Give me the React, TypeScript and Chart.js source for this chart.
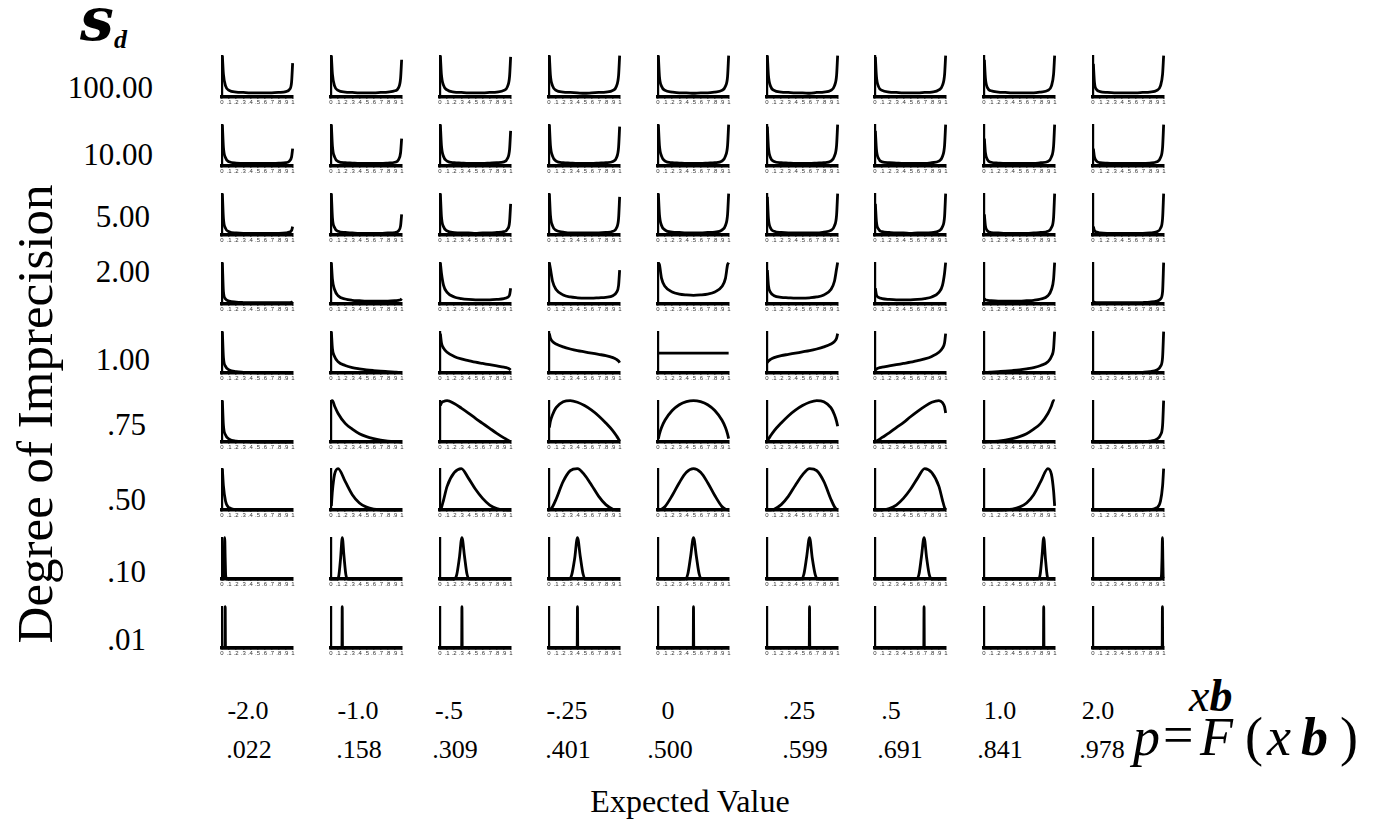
import React, { useEffect, useRef } from 'react';
import { Chart, registerables } from 'chart.js';

Chart.register(...registerables);

// ---------- labels ----------
const sdLabels = ['100.00', '10.00', '5.00', '2.00', '1.00', '.75', '.50', '.10', '.01'];
const meanLabels = ['-2.0', '-1.0', '-.5', '-.25', '0', '.25', '.5', '1.0', '2.0'];
const probLabels = ['.022', '.158', '.309', '.401', '.500', '.599', '.691', '.841', '.978'];
const xTickValues = [0, 0.1, 0.2, 0.3, 0.4, 0.5, 0.6, 0.7, 0.8, 0.9, 1];
const xTickLabels = ['0', '.1', '.2', '.3', '.4', '.5', '.6', '.7', '.8', '.9', '1'];

// p positions at which heights were read (rows sd 100 ... .50)
const pGrid = [0.005, 0.02, 0.05, 0.1, 0.2, 0.3, 0.4, 0.5, 0.6, 0.7, 0.8, 0.9, 0.95, 0.98, 0.995];

// heights (fraction of each cell's y range), one list per column
const sd100 = [
  [1.0, .55, .27, .16, .12, .11, .10, .10, .10, .10, .11, .13, .18, .36, .82],
  [1.0, .55, .27, .16, .12, .11, .10, .10, .10, .11, .12, .15, .22, .45, .9],
  [1.0, .54, .28, .17, .12, .11, .10, .10, .10, .11, .12, .16, .25, .5, .97],
  [1.0, .52, .27, .16, .12, .11, .10, .09, .10, .11, .12, .16, .26, .52, 1.0],
  [1.0, .5, .26, .16, .12, .10, .10, .09, .10, .10, .12, .16, .26, .5, 1.0],
  [1.0, .52, .26, .16, .12, .11, .10, .10, .09, .11, .12, .16, .27, .52, 1.0],
  [.97, .5, .25, .16, .12, .11, .10, .10, .10, .11, .12, .17, .28, .54, 1.0],
  [.9, .45, .22, .15, .12, .11, .10, .10, .10, .10, .12, .16, .27, .55, 1.0],
  [.8, .36, .18, .13, .11, .10, .10, .10, .10, .11, .12, .16, .27, .55, 1.0],
];
const sd10 = [
  [1.0, .45, .2, .1, .07, .06, .06, .06, .06, .06, .07, .08, .12, .22, .42],
  [1.0, .48, .22, .11, .08, .07, .06, .06, .06, .06, .07, .09, .15, .32, .66],
  [1.0, .5, .23, .12, .08, .07, .06, .06, .06, .07, .08, .1, .18, .4, .85],
  [1.0, .5, .24, .12, .08, .07, .06, .06, .06, .07, .08, .11, .2, .45, .95],
  [1.0, .5, .24, .12, .08, .07, .06, .06, .06, .07, .08, .12, .24, .5, 1.0],
  [.95, .45, .2, .11, .08, .07, .06, .06, .06, .07, .08, .12, .24, .5, 1.0],
  [.85, .4, .18, .1, .08, .07, .06, .06, .06, .06, .08, .12, .23, .5, 1.0],
  [.66, .32, .15, .09, .07, .06, .06, .06, .06, .06, .08, .11, .22, .48, 1.0],
  [.42, .22, .12, .08, .07, .06, .06, .06, .06, .06, .07, .1, .2, .45, 1.0],
];
const sd5 = [
  [1.0, .4, .16, .08, .05, .04, .04, .04, .04, .04, .04, .05, .07, .11, .2],
  [1.0, .42, .18, .09, .06, .05, .04, .04, .04, .04, .05, .06, .1, .22, .5],
  [1.0, .45, .2, .1, .06, .05, .05, .04, .05, .05, .06, .08, .14, .32, .75],
  [1.0, .48, .22, .11, .07, .05, .05, .05, .05, .05, .06, .09, .17, .4, .92],
  [1.0, .5, .23, .12, .07, .06, .05, .05, .05, .06, .07, .12, .23, .5, 1.0],
  [.92, .4, .17, .09, .06, .05, .05, .05, .05, .05, .07, .11, .22, .48, 1.0],
  [.75, .32, .14, .08, .06, .05, .05, .04, .05, .05, .06, .1, .2, .45, 1.0],
  [.5, .22, .1, .06, .05, .04, .04, .04, .04, .05, .06, .09, .18, .42, 1.0],
  [.2, .11, .07, .05, .04, .04, .04, .04, .04, .04, .05, .08, .16, .4, 1.0],
];
const sd2 = [
  [1.0, .3, .12, .07, .045, .035, .03, .03, .03, .03, .03, .03, .035, .04, .06],
  [1.0, .6, .35, .2, .12, .09, .08, .07, .07, .07, .07, .08, .09, .1, .13],
  [1.0, .75, .45, .28, .17, .13, .11, .1, .1, .1, .11, .13, .16, .22, .38],
  [1.0, .85, .55, .35, .22, .17, .15, .14, .14, .15, .16, .2, .28, .45, .82],
  [1.0, .95, .62, .42, .29, .24, .22, .21, .22, .24, .29, .42, .62, .95, 1.0],
  [.82, .45, .28, .2, .16, .15, .14, .14, .15, .17, .22, .35, .55, .85, 1.0],
  [.38, .22, .16, .13, .11, .1, .1, .1, .11, .13, .17, .28, .45, .75, 1.0],
  [.13, .1, .09, .08, .07, .07, .07, .07, .08, .09, .12, .2, .35, .6, 1.0],
  [.06, .04, .035, .03, .03, .03, .03, .03, .03, .035, .045, .07, .12, .3, 1.0],
];
const sd1 = [
  [1.0, .38, .16, .075, .032, .017, .01, .006, .004, .003, .002, .001, 0, 0, 0],
  [1.0, .59, .40, .27, .18, .13, .10, .076, .059, .045, .033, .021, .015, .01, .006],
  [.95, .73, .60, .50, .40, .34, .30, .26, .23, .20, .17, .14, .12, .095, .07],
  [.95, .84, .76, .70, .63, .58, .54, .51, .48, .45, .42, .37, .33, .29, .25],
  [.48, .48, .48, .48, .48, .48, .48, .48, .48, .48, .48, .48, .48, .48, .48],
  [.25, .29, .33, .37, .42, .45, .48, .51, .54, .58, .63, .70, .76, .84, .95],
  [.07, .095, .12, .14, .17, .20, .23, .26, .30, .34, .40, .50, .60, .73, .95],
  [.006, .01, .015, .021, .033, .045, .059, .076, .10, .13, .18, .27, .40, .59, 1.0],
  [0, 0, 0, .001, .002, .003, .004, .006, .01, .017, .032, .075, .16, .38, 1.0],
];
const sd075 = [
  [1.0, .4, .17, .07, .02, .008, .003, 0, 0, 0, 0, 0, 0, 0, 0],
  [.99, 1.0, .87, .69, .45, .31, .20, .13, .083, .048, .023, .007, .002, 0, 0],
  [.88, .94, .98, 1.0, .93, .82, .7, .57, .45, .33, .21, .1, .05, .02, .005],
  [.35, .5, .66, .83, .97, 1.0, .96, .88, .77, .63, .46, .27, .15, .07, .02],
  [.08, .19, .35, .53, .76, .90, .975, 1.0, .975, .90, .76, .53, .35, .19, .08],
  [.02, .07, .15, .27, .46, .63, .77, .88, .96, 1.0, .97, .83, .66, .5, .38],
  [.005, .02, .05, .11, .22, .35, .47, .61, .74, .86, .96, 1.0, .95, .85, .7],
  [0, 0, .002, .007, .023, .048, .083, .13, .20, .31, .45, .69, .87, 1.0, .99],
  [0, 0, 0, 0, 0, 0, 0, 0, .003, .008, .02, .07, .17, .4, 1.0],
];
const sd050 = [
  [1.0, .58, .21, .056, .007, 0, 0, 0, 0, 0, 0, 0, 0, 0, 0],
  [.1, .46, .86, 1.0, .69, .37, .17, .07, .023, .005, 0, 0, 0, 0, 0],
  [.004, .055, .24, .57, .9, 1.0, .77, .5, .28, .12, .034, .003, 0, 0, 0],
  [0, .012, .077, .26, .69, .95, 1.0, .85, .60, .33, .13, .02, 0, 0, 0],
  [0, .001, .017, .085, .35, .66, .91, 1.0, .91, .66, .35, .085, .017, .001, 0],
  [0, 0, 0, .02, .13, .33, .60, .85, 1.0, .95, .69, .26, .077, .012, 0],
  [0, 0, 0, .003, .034, .12, .28, .5, .77, 1.0, .9, .57, .24, .055, .004],
  [0, 0, 0, 0, 0, .005, .023, .07, .17, .37, .69, 1.0, .86, .46, .1],
  [0, 0, 0, 0, 0, 0, 0, 0, 0, 0, .007, .056, .21, .58, 1.0],
];

// rows sd .10 and .01: [p, height] pairs read around each peak
const sd010 = [
  [[0, 0], [.02, 0], [.03, .45], [.038, 1], [.045, .5], [.052, .08], [.065, 0], [1, 0]],
  [[0, 0], [.09, 0], [.11, .08], [.135, .5], [.159, 1], [.183, .55], [.21, .1], [.235, 0], [1, 0]],
  [[0, 0], [.2, 0], [.235, .1], [.272, .5], [.309, 1], [.345, .55], [.38, .12], [.42, 0], [1, 0]],
  [[0, 0], [.28, 0], [.32, .1], [.362, .5], [.401, 1], [.44, .55], [.48, .12], [.52, 0], [1, 0]],
  [[0, 0], [.38, 0], [.42, .12], [.46, .55], [.5, 1], [.54, .55], [.58, .12], [.62, 0], [1, 0]],
  [[0, 0], [.48, 0], [.52, .12], [.56, .55], [.599, 1], [.638, .5], [.68, .1], [.72, 0], [1, 0]],
  [[0, 0], [.58, 0], [.62, .12], [.655, .55], [.691, 1], [.728, .5], [.765, .1], [.8, 0], [1, 0]],
  [[0, 0], [.765, 0], [.79, .1], [.817, .55], [.841, 1], [.865, .5], [.89, .08], [.91, 0], [1, 0]],
  [[0, 0], [.95, 0], [.964, .08], [.972, .5], [.978, 1], [.984, .45], [.99, 0], [1, 0]],
];
const sd001 = [
  [[0, 0], [.041, 0], [.045, 1], [.049, 0], [1, 0]],
  [[0, 0], [.154, 0], [.158, 1], [.162, 0], [1, 0]],
  [[0, 0], [.305, 0], [.309, 1], [.313, 0], [1, 0]],
  [[0, 0], [.397, 0], [.401, 1], [.405, 0], [1, 0]],
  [[0, 0], [.496, 0], [.5, 1], [.504, 0], [1, 0]],
  [[0, 0], [.595, 0], [.599, 1], [.603, 0], [1, 0]],
  [[0, 0], [.687, 0], [.691, 1], [.695, 0], [1, 0]],
  [[0, 0], [.837, 0], [.841, 1], [.845, 0], [1, 0]],
  [[0, 0], [.974, 0], [.978, 1], [.982, 0], [1, 0]],
];

const gridRows = [sd100, sd10, sd5, sd2, sd1, sd075, sd050];
const pairRows = [sd010, sd001];

type Pt = { x: number; y: number };

function cellPoints(r: number, c: number): Pt[] {
  if (r < gridRows.length) {
    return gridRows[r][c].map((h, i) => ({ x: pGrid[i], y: h }));
  }
  return pairRows[r - gridRows.length][c].map(([p, h]) => ({ x: p, y: h }));
}

// layout
const COL0 = 222;
const COL_STEP = 108.9;
const ROW0 = 97;
const ROW_STEP = 68.9;
const PLOT_W = 71;
const PLOT_H = 43;
const Y_AXIS_W = 10;
const X_AXIS_H = 10;
const PAD_TOP = 4;
const PAD_RIGHT = 5;

function Cell({ r, c }: { r: number; c: number }) {
  const ref = useRef<HTMLCanvasElement>(null);
  useEffect(() => {
    const canvas = ref.current;
    if (!canvas) return;
    const chart = new Chart(canvas, {
      type: 'line',
      data: {
        datasets: [
          {
            data: cellPoints(r, c),
            borderColor: '#000',
            borderWidth: 2.8,
            pointRadius: 0,
            fill: false,
            cubicInterpolationMode: 'monotone',
            clip: false,
          } as any,
        ],
      },
      options: {
        animation: false,
        responsive: false,
        maintainAspectRatio: false,
        events: [],
        plugins: { legend: { display: false }, tooltip: { enabled: false } },
        layout: { padding: { top: PAD_TOP, right: PAD_RIGHT, left: 0, bottom: 0 } },
        scales: {
          x: {
            type: 'linear',
            min: 0,
            max: 1,
            afterBuildTicks: (s: any) => {
              s.ticks = xTickValues.map((v) => ({ value: v }));
            },
            afterFit: (s: any) => {
              s.height = X_AXIS_H;
            },
            ticks: {
              autoSkip: false,
              maxRotation: 0,
              minRotation: 0,
              padding: 0,
              font: { size: 6, family: 'Liberation Sans' },
              color: '#333',
              callback: (_v: any, i: number) => xTickLabels[i],
            },
            grid: { display: true, drawOnChartArea: false, drawTicks: true, tickLength: 2, color: '#000', lineWidth: 1.5 },
            border: { display: true, width: 3.5, color: '#000' },
          },
          y: {
            type: 'linear',
            min: 0,
            max: 1,
            afterBuildTicks: (s: any) => {
              s.ticks = [{ value: 0 }];
            },
            afterFit: (s: any) => {
              s.width = Y_AXIS_W;
            },
            ticks: {
              padding: 2,
              font: { size: 6, family: 'Liberation Sans' },
              color: '#333',
              callback: () => '0',
            },
            grid: { display: false },
            border: { display: true, width: 2.2, color: '#000' },
          },
        },
      } as any,
    });
    return () => chart.destroy();
  }, [r, c]);
  const axisX = COL0 + c * COL_STEP;
  const axisY = ROW0 + r * ROW_STEP;
  return (
    <canvas
      ref={ref}
      width={Y_AXIS_W + PLOT_W + PAD_RIGHT}
      height={PAD_TOP + PLOT_H + X_AXIS_H}
      style={{ position: 'absolute', left: Math.round(axisX - Y_AXIS_W), top: Math.round(axisY - PLOT_H - PAD_TOP) }}
    />
  );
}

const serif = "'Liberation Serif', 'Times New Roman', serif";

const rowLabelY = [88, 155, 217, 272, 360, 425, 500, 572, 640];
const rowLabelRight = [153, 153, 150, 150, 150, 146, 146, 146, 146];
const colLine1X = [248, 358, 449, 567, 668, 799, 891, 1000, 1098];
const colLine2X = [249, 359, 455, 568, 670, 805, 900, 1000, 1102];

export default function App() {
  const cells: JSX.Element[] = [];
  for (let r = 0; r < 9; r++) {
    for (let c = 0; c < 9; c++) {
      cells.push(<Cell key={`${r}-${c}`} r={r} c={c} />);
    }
  }
  const abs = (style: React.CSSProperties): React.CSSProperties => ({ position: 'absolute', whiteSpace: 'nowrap', ...style });
  return (
    <div style={{ position: 'absolute', left: 0, top: 0, width: 1380, height: 837, background: '#fff', overflow: 'hidden', fontFamily: serif, color: '#000' }}>
      {/* sigma_d */}
      <div style={abs({ left: 80, top: -11, font: "italic bold 60px 'DejaVu Serif'", lineHeight: '60px' })}>s</div>
      <div style={abs({ left: 114, top: 27, font: `italic bold 26px ${serif}`, lineHeight: '26px' })}>d</div>

      {/* row labels */}
      {sdLabels.map((t, i) => (
        <div key={t} style={abs({ right: 1380 - rowLabelRight[i], top: rowLabelY[i] - 16, fontSize: 31, lineHeight: '31px', textAlign: 'right' })}>
          {t}
        </div>
      ))}

      {/* y title */}
      <div
        style={abs({
          left: 35 - 260,
          top: 414 - 26,
          width: 520,
          height: 52,
          fontSize: 51,
          lineHeight: '52px',
          textAlign: 'center',
          transform: 'rotate(-90deg)',
        })}
      >
        Degree of Imprecision
      </div>

      {cells}

      {/* column labels */}
      {meanLabels.map((t, i) => (
        <div key={'m' + i} style={abs({ left: colLine1X[i] - 50, top: 711 - 13, width: 100, textAlign: 'center', fontSize: 26, lineHeight: '26px' })}>
          {t}
        </div>
      ))}
      {probLabels.map((t, i) => (
        <div key={'p' + i} style={abs({ left: colLine2X[i] - 50, top: 750 - 13, width: 100, textAlign: 'center', fontSize: 26, lineHeight: '26px' })}>
          {t}
        </div>
      ))}

      {/* x title */}
      <div style={abs({ left: 690 - 200, top: 785, width: 400, textAlign: 'center', fontSize: 32, lineHeight: '32px' })}>Expected Value</div>

      {/* formula p = F(xb) with superscript xb */}
      <div style={abs({ left: 1133, top: 710, fontSize: 54, lineHeight: '54px', fontStyle: 'italic' })}>p</div>
      <div style={abs({ left: 1163, top: 708, fontSize: 54, lineHeight: '54px' })}>=</div>
      <div style={abs({ left: 1189, top: 673, fontSize: 46, lineHeight: '46px' })}>
        <span style={{ fontStyle: 'italic' }}>x</span>
        <span style={{ fontStyle: 'italic', fontWeight: 'bold' }}>b</span>
      </div>
      <div style={abs({ left: 1200, top: 710, fontSize: 54, lineHeight: '54px' })}>
        <span style={{ fontStyle: 'italic' }}>F</span>
        <span style={{ marginLeft: 12 }}>(</span>
        <span style={{ fontStyle: 'italic', marginLeft: 4 }}>x</span>
        <span style={{ fontStyle: 'italic', fontWeight: 'bold', marginLeft: 10 }}>b</span>
        <span style={{ marginLeft: 12 }}>)</span>
      </div>
    </div>
  );
}
